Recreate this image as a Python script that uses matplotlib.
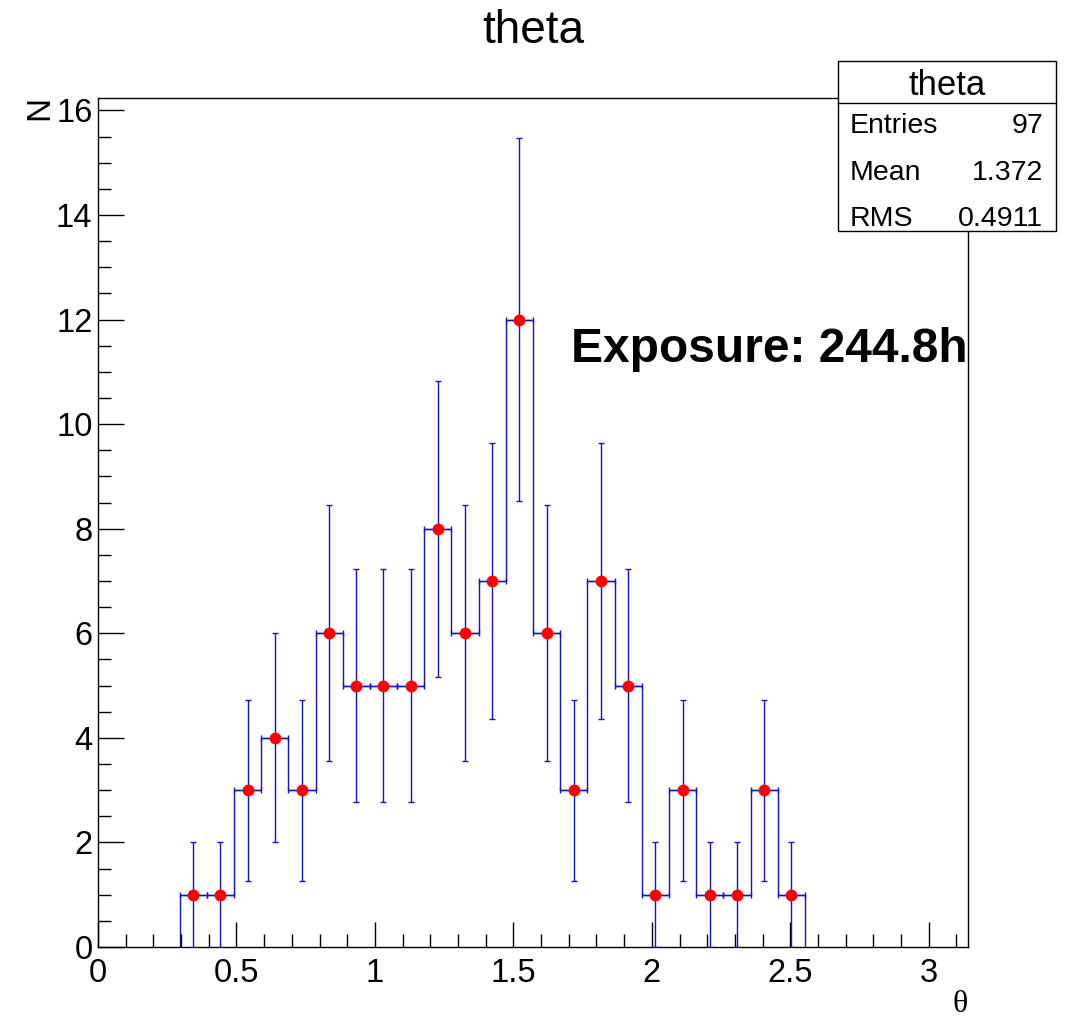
import numpy as np
import matplotlib.pyplot as plt
from matplotlib.patches import Rectangle
from matplotlib.lines import Line2D
from matplotlib.ticker import MultipleLocator

plt.rcParams['font.family'] = ['Liberation Sans', 'DejaVu Sans']

# histogram: 32 bins over [0, pi], only bins 3..25 are filled
nbins = 32
first_bin = 3
counts = [1, 1, 3, 4, 3, 6, 5, 5, 5, 8, 6, 7, 12, 6, 3, 7, 5, 1, 3, 1, 1, 3, 1]
stats_labels = ['Entries', 'Mean', 'RMS']
stats_values = ['97', '1.372', '0.4911']
exposure = 'Exposure: 244.8h'

counts = np.array(counts, dtype=float)
width = np.pi / nbins
edges = (first_bin + np.arange(len(counts) + 1)) * width
centers = 0.5 * (edges[:-1] + edges[1:])
errs = np.sqrt(counts)

W, H = 1072, 1019
fig = plt.figure(figsize=(W / 100, H / 100), dpi=100)
ax = fig.add_axes([98 / W, 1 - 947 / H, (968 - 98) / W, (947 - 98) / H])

blue = '#1414c0'
ax.stairs(counts, edges, baseline=0, color=blue, lw=1.0)
ax.errorbar(centers, counts, xerr=width / 2, yerr=errs, fmt='o', color=blue,
            ecolor=blue, elinewidth=1.0, capsize=2.2, capthick=1.0,
            mfc='red', mec='red', ms=7.5, zorder=3)

ax.set_xlim(0, np.pi)
ax.set_ylim(0, 1.05 * (counts.max() + errs[counts.argmax()]))

ax.xaxis.set_major_locator(MultipleLocator(0.5))
ax.xaxis.set_minor_locator(MultipleLocator(0.1))
ax.yaxis.set_major_locator(MultipleLocator(2))
ax.yaxis.set_minor_locator(MultipleLocator(0.5))
ax.set_xticks([0, 0.5, 1, 1.5, 2, 2.5, 3])
ax.set_xticklabels(['0', '0.5', '1', '1.5', '2', '2.5', '3'])
ax.tick_params(which='both', direction='in', top=False, right=False,
               labelsize=23.5, width=1.0, color='black')
ax.tick_params(axis='x', which='major', length=18, pad=8)
ax.tick_params(axis='x', which='minor', length=9.4)
ax.tick_params(axis='y', which='major', length=18.5, pad=4)
ax.tick_params(axis='y', which='minor', length=9.4)
for s in ax.spines.values():
    s.set_linewidth(1.0)

# title and axis titles
fig.text(533 / W, 1 - 43 / H, 'theta', ha='center', va='baseline', fontsize=33)
fig.text(40 / W, 1 - 108 / H, 'N', ha='center', va='center', rotation=90,
         fontsize=24)
fig.text(968 / W, 1 - 1012 / H, 'θ', ha='right', va='baseline', fontsize=23,
         family=['Liberation Serif', 'DejaVu Serif'])

# exposure label
fig.text(571 / W, 1 - 362 / H, exposure, ha='left', va='baseline',
         fontsize=34.5, fontweight='bold')

# stats box
bx0, bx1, by0, by1, bsep = 837.5, 1056, 61, 231, 102.5
fig.patches.append(Rectangle((bx0 / W, 1 - by1 / H), (bx1 - bx0) / W,
                             (by1 - by0) / H, transform=fig.transFigure,
                             facecolor='white', edgecolor='black', lw=1.0,
                             zorder=5))
fig.lines.append(Line2D([bx0 / W, bx1 / W], [1 - bsep / H, 1 - bsep / H],
                        transform=fig.transFigure, color='black', lw=1.0,
                        zorder=6))
fig.text((bx0 + bx1) / 2 / W, 1 - 95 / H, 'theta', ha='center',
         va='baseline', fontsize=25, zorder=7)
for i, (lab, val) in enumerate(zip(stats_labels, stats_values)):
    yb = 1 - (133 + 46.5 * i) / H
    fig.text(850 / W, yb, lab, ha='left', va='baseline', fontsize=20.5,
             zorder=7)
    fig.text(1043 / W, yb, val, ha='right', va='baseline', fontsize=20.5,
             zorder=7)

fig.savefig('out.png', dpi=100)
